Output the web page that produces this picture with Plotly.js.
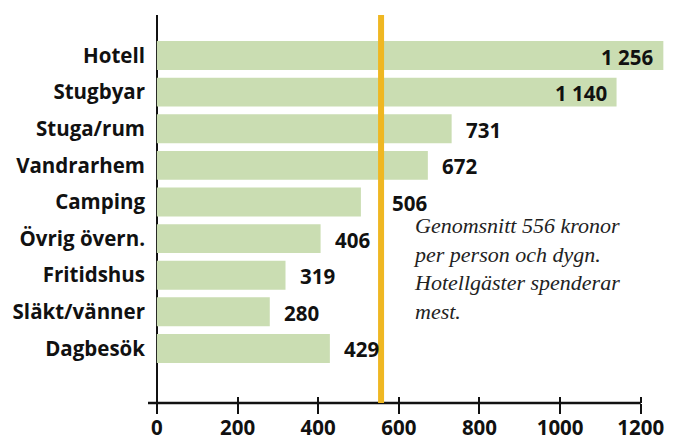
<!DOCTYPE html>
<html>
<head>
<meta charset="utf-8">
<script src="https://cdn.plot.ly/plotly-3.0.1.min.js"></script>
<style>html,body{margin:0;padding:0;background:#fff;}#chart{width:677px;height:442px;}</style>
</head>
<body>
<div id="chart"></div>
<script>
var categories = ["Hotell","Stugbyar","Stuga/rum","Vandrarhem","Camping","Övrig övern.","Fritidshus","Släkt/vänner","Dagbesök"];
var values = [1256, 1140, 731, 672, 506, 406, 319, 280, 429];
var meanValue = 556;
var tickValues = [0, 200, 400, 600, 800, 1000, 1200];
var noteLines = ["Genomsnitt 556 kronor", "per person och dygn.", "Hotellgäster spenderar", "mest."];

var X_MIN = -22, X_MAX = 1275;
var BAR_COLOR = "#CADDB2";
var LINE_COLOR = "#EFB722";
var SANS = "'Open Sans', 'Noto Sans', sans-serif";
var FS = 20.5;

function fmt(v){ return String(v).replace(/\B(?=(\d{3})+(?!\d))/g, " "); }

var bars = {
  type: "bar", orientation: "h",
  y: categories, x: values,
  marker: {color: BAR_COLOR, line: {width: 0}},
  width: 0.79,
  hoverinfo: "skip", showlegend: false
};
var dummy = {type: "scatter", x: [], y: [], xaxis: "x2", yaxis: "y", hoverinfo: "skip", showlegend: false};

var annotations = categories.map(function(c, i){
  var v = values[i];
  var inside = v >= 1000;
  var nearMean = v < meanValue && v > meanValue - 60;
  return {
    xref: "x", yref: "y",
    x: nearMean ? meanValue : v, y: c,
    text: fmt(v),
    showarrow: false,
    xanchor: inside ? "right" : "left",
    xshift: inside ? -8 : (nearMean ? 9 : 12),
    yshift: -1,
    font: {family: SANS, size: FS, color: "#111", weight: 700}
  };
});
annotations.push({
  xref: "x", yref: "y",
  x: meanValue, y: categories[6],
  xanchor: "left", yanchor: "middle", align: "left",
  xshift: 30, yshift: 7,
  showarrow: false,
  text: noteLines.join("<br>"),
  font: {family: "'Liberation Serif', 'DejaVu Serif', serif", size: 22, color: "#222", style: "italic"}
});

var layout = {
  width: 677, height: 442,
  margin: {l: 148, r: 6, t: 15, b: 39, pad: 0},
  paper_bgcolor: "#fff", plot_bgcolor: "#fff",
  showlegend: false,
  xaxis: {
    range: [X_MIN, X_MAX],
    tickvals: tickValues,
    ticks: "outside", ticklen: 10, tickwidth: 2, tickcolor: "#111",
    ticklabelstandoff: -4,
    showgrid: false, showline: false,
    zeroline: true, zerolinecolor: "#111", zerolinewidth: 2,
    tickfont: {family: SANS, size: FS, color: "#111", weight: 700},
    fixedrange: true
  },
  xaxis2: {
    overlaying: "x", matches: "x", anchor: "y",
    range: [X_MIN, X_MAX],
    tickvals: tickValues.slice(1),
    ticks: "inside", ticklen: 6, tickwidth: 2, tickcolor: "#111",
    showticklabels: false, showgrid: false, showline: false, zeroline: false
  },
  yaxis: {
    type: "category",
    range: [9.49, -1.107],
    showgrid: false, zeroline: false, showline: false, ticks: "",
    ticklabelstandoff: 2,
    tickfont: {family: SANS, size: FS, color: "#111", weight: 700},
    fixedrange: true
  },
  shapes: [
    {type: "line", xref: "x", yref: "paper", x0: X_MIN, x1: tickValues[tickValues.length-1], y0: 0, y1: 0,
     line: {color: "#111", width: 2.5}},
    {type: "line", xref: "x", yref: "paper", x0: meanValue, x1: meanValue, y0: 0, y1: 1,
     line: {color: LINE_COLOR, width: 6}}
  ],
  annotations: annotations
};

Plotly.newPlot("chart", [bars, dummy], layout, {displayModeBar: false, staticPlot: true});
</script>
</body>
</html>
